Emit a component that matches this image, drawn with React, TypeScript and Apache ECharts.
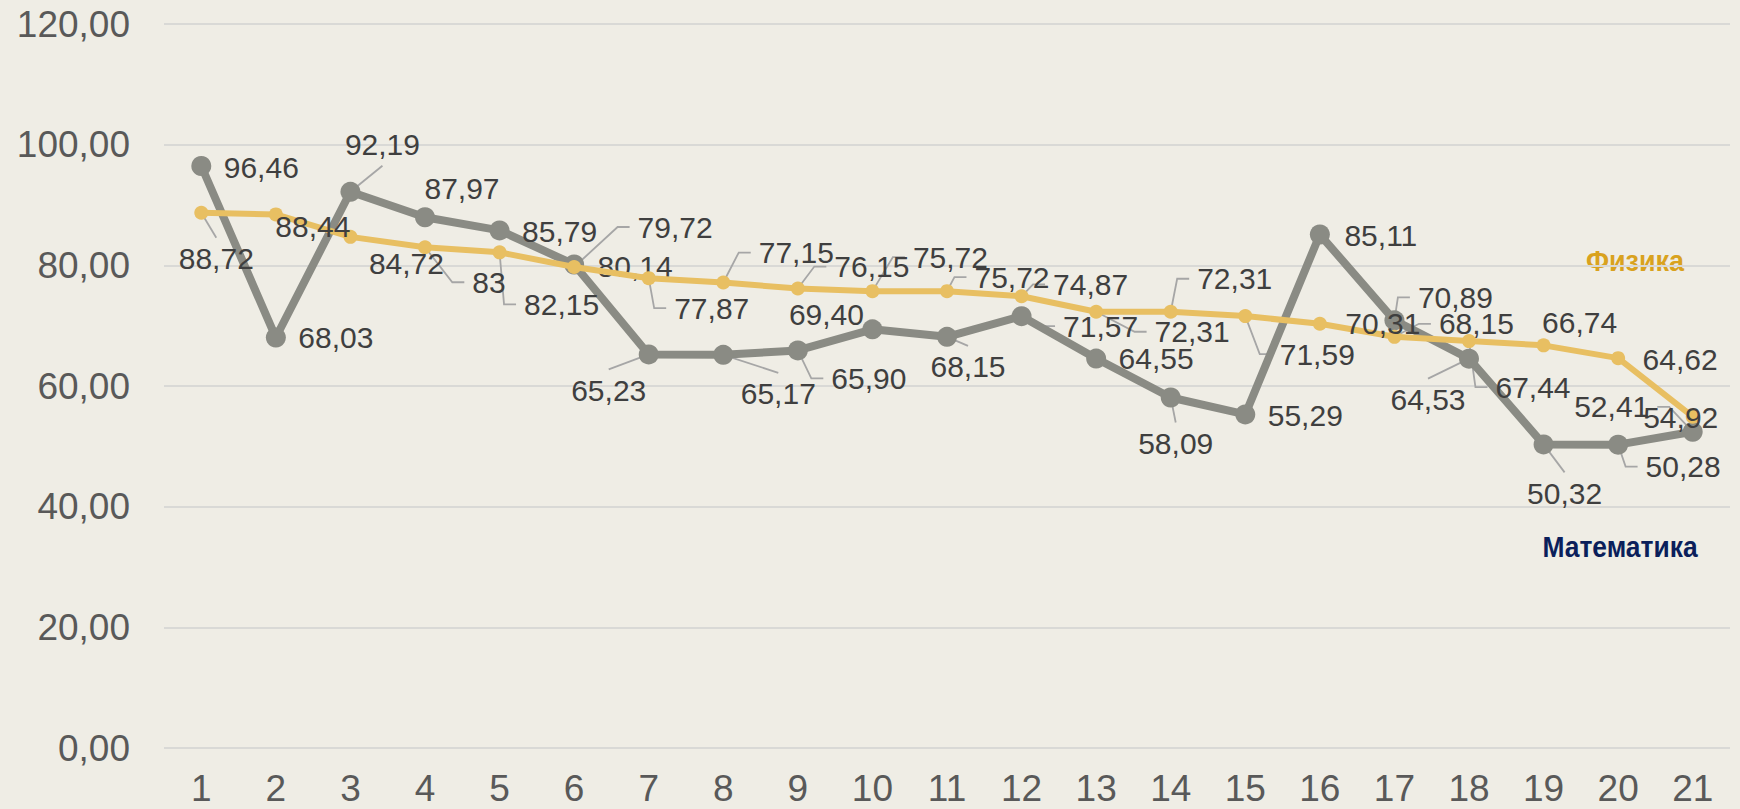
import React, { useEffect, useRef } from "react";
import * as echarts from "echarts";

const categories = ["1","2","3","4","5","6","7","8","9","10","11","12","13","14","15","16","17","18","19","20","21"];
const mathValues = [96.46, 68.03, 92.19, 87.97, 85.79, 80.14, 65.23, 65.17, 65.90, 69.40, 68.15, 71.57, 64.55, 58.09, 55.29, 85.11, 70.89, 64.53, 50.32, 50.28, 52.41];
const physicsValues = [88.72, 88.44, 84.72, 83, 82.15, 79.72, 77.87, 77.15, 76.15, 75.72, 75.72, 74.87, 72.31, 72.31, 71.59, 70.31, 68.15, 67.44, 66.74, 64.62, 54.92];
const yTicks = { min: 0, max: 120, interval: 20 };
const mathName = "Математика";
const physicsName = "Физика";

// label placement (offset from point) and leader kind: 0 none, 1 elbow, 2 straight
const mathLabelOffsets = [[60,1],[60,0],[32,-47],[37,-29],[60,1],[61,2],[-40,36],[55,39],[71,28],[-46,-15],[21,30],[79,10],[60,0],[5,46],[60,1],[61,1],[61,-23],[-41,41],[21,49],[65,22],[-81,-25]];
const mathLeaders = [0,0,2,0,0,0,2,2,1,0,2,1,0,2,0,0,1,2,2,1,1];
const physicsLabelOffsets = [[15,46],[37,12],[56,27],[64,35],[62,52],[101,-40],[63,30],[73,-30],[74,-22],[78,-34],[65,-14],[69,-12],[96,20],[64,-33],[72,38],[63,0],[82,-13],[64,46],[36,-23],[62,1],[-12,1]];
const physicsLeaders = [2,0,0,1,1,1,1,1,1,1,1,1,1,1,1,0,1,1,0,0,0];

const LABEL_FONT_SIZE = 30;
const LABEL_FONT_FAMILY = '"Liberation Sans", Arial, sans-serif';

const fmt = (v: number) => (Number.isInteger(v) ? String(v) : v.toFixed(2)).replace(".", ",");

let measureCtx: CanvasRenderingContext2D | null = null;
function textWidth(s: string) {
  if (!measureCtx) {
    const c = document.createElement("canvas");
    measureCtx = c.getContext("2d");
  }
  if (!measureCtx) return s.length * LABEL_FONT_SIZE * 0.55;
  measureCtx.font = `${LABEL_FONT_SIZE}px ${LABEL_FONT_FAMILY}`;
  return measureCtx.measureText(s).width;
}

function buildData(values: number[], offsets: number[][]) {
  return values.map((v, i) => ({
    value: v,
    label: { offset: offsets[i] },
  }));
}

function leaderSeries(values: number[], offsets: number[][], kinds: number[]) {
  return {
    type: "custom",
    coordinateSystem: "cartesian2d",
    silent: true,
    z: 1,
    data: values.map((v, i) => [i, v]),
    encode: { x: 0, y: 1 },
    renderItem: (params: any, api: any) => {
      const i = params.dataIndex;
      const kind = kinds[i];
      if (!kind) return null;
      const v = api.value(1);
      const p = api.coord([api.value(0), v]);
      const off = offsets[i];
      const cx = p[0] + off[0];
      const cy = p[1] + off[1];
      const w = textWidth(fmt(v));
      let points: number[][];
      if (kind === 2) {
        const ey = off[1] > 0 ? cy - 21 : cy + 21;
        points = [p, [cx, ey]];
      } else {
        const dir = off[0] >= 0 ? -1 : 1;
        const ex = cx + dir * (w / 2 + 8);
        const bx = ex + dir * 12;
        points = [p, [bx, cy], [ex, cy]];
      }
      return {
        type: "polyline",
        shape: { points },
        style: { stroke: "#A6A6A6", lineWidth: 1.8, fill: null },
      };
    },
  };
}

export default function App() {
  const ref = useRef<HTMLDivElement>(null);
  useEffect(() => {
    if (!ref.current) return;
    const chart = echarts.init(ref.current, null, { renderer: "svg" });
    const labelFont = {
      fontFamily: LABEL_FONT_FAMILY,
      fontSize: LABEL_FONT_SIZE,
      color: "#3F3F3F",
    };
    chart.setOption({
      animation: false,
      backgroundColor: "#EFEDE5",
      grid: { left: 164, right: 10, top: 24, bottom: 61 },
      xAxis: {
        type: "category",
        data: categories,
        boundaryGap: true,
        axisLine: { show: false },
        axisTick: { show: false },
        axisLabel: {
          fontFamily: LABEL_FONT_FAMILY,
          fontSize: 37,
          color: "#595959",
          margin: 22,
        },
      },
      yAxis: {
        type: "value",
        min: yTicks.min,
        max: yTicks.max,
        interval: yTicks.interval,
        axisLine: { show: false },
        axisTick: { show: false },
        splitLine: { lineStyle: { color: "#D9D9D6", width: 2 } },
        axisLabel: {
          fontFamily: LABEL_FONT_FAMILY,
          fontSize: 37,
          color: "#595959",
          margin: 34,
          formatter: (v: number) => v.toFixed(2).replace(".", ","),
        },
      },
      series: [
        leaderSeries(mathValues, mathLabelOffsets, mathLeaders),
        leaderSeries(physicsValues, physicsLabelOffsets, physicsLeaders),
        {
          name: mathName,
          type: "line",
          data: buildData(mathValues, mathLabelOffsets),
          symbol: "circle",
          symbolSize: 20,
          showSymbol: true,
          lineStyle: { color: "#8A8B84", width: 8 },
          itemStyle: { color: "#8A8B84" },
          label: {
            show: true,
            position: "inside",
            ...labelFont,
            formatter: (p: any) => fmt(p.value),
          },
          z: 2,
        },
        {
          name: physicsName,
          type: "line",
          data: buildData(physicsValues, physicsLabelOffsets),
          symbol: "circle",
          symbolSize: 14,
          showSymbol: true,
          lineStyle: { color: "#E8BF62", width: 6 },
          itemStyle: { color: "#E8BF62" },
          label: {
            show: true,
            position: "inside",
            ...labelFont,
            formatter: (p: any) => fmt(p.value),
          },
          z: 3,
        },
      ],
      graphic: [
        {
          type: "text",
          x: 1635,
          y: 260,
          scaleX: 0.9,
          style: {
            text: physicsName,
            fill: "#D9A21E",
            font: 'bold 30px "Liberation Sans", Arial, sans-serif',
            textAlign: "center",
            textVerticalAlign: "middle",
          },
        },
        {
          type: "text",
          x: 1620,
          y: 546,
          scaleX: 0.88,
          style: {
            text: mathName,
            fill: "#0B1F5B",
            font: 'bold 30px "Liberation Sans", Arial, sans-serif',
            textAlign: "center",
            textVerticalAlign: "middle",
          },
        },
      ],
    });
    return () => chart.dispose();
  }, []);
  return (
    <div
      ref={ref}
      style={{ position: "fixed", left: 0, top: 0, width: 1740, height: 809 }}
    />
  );
}
